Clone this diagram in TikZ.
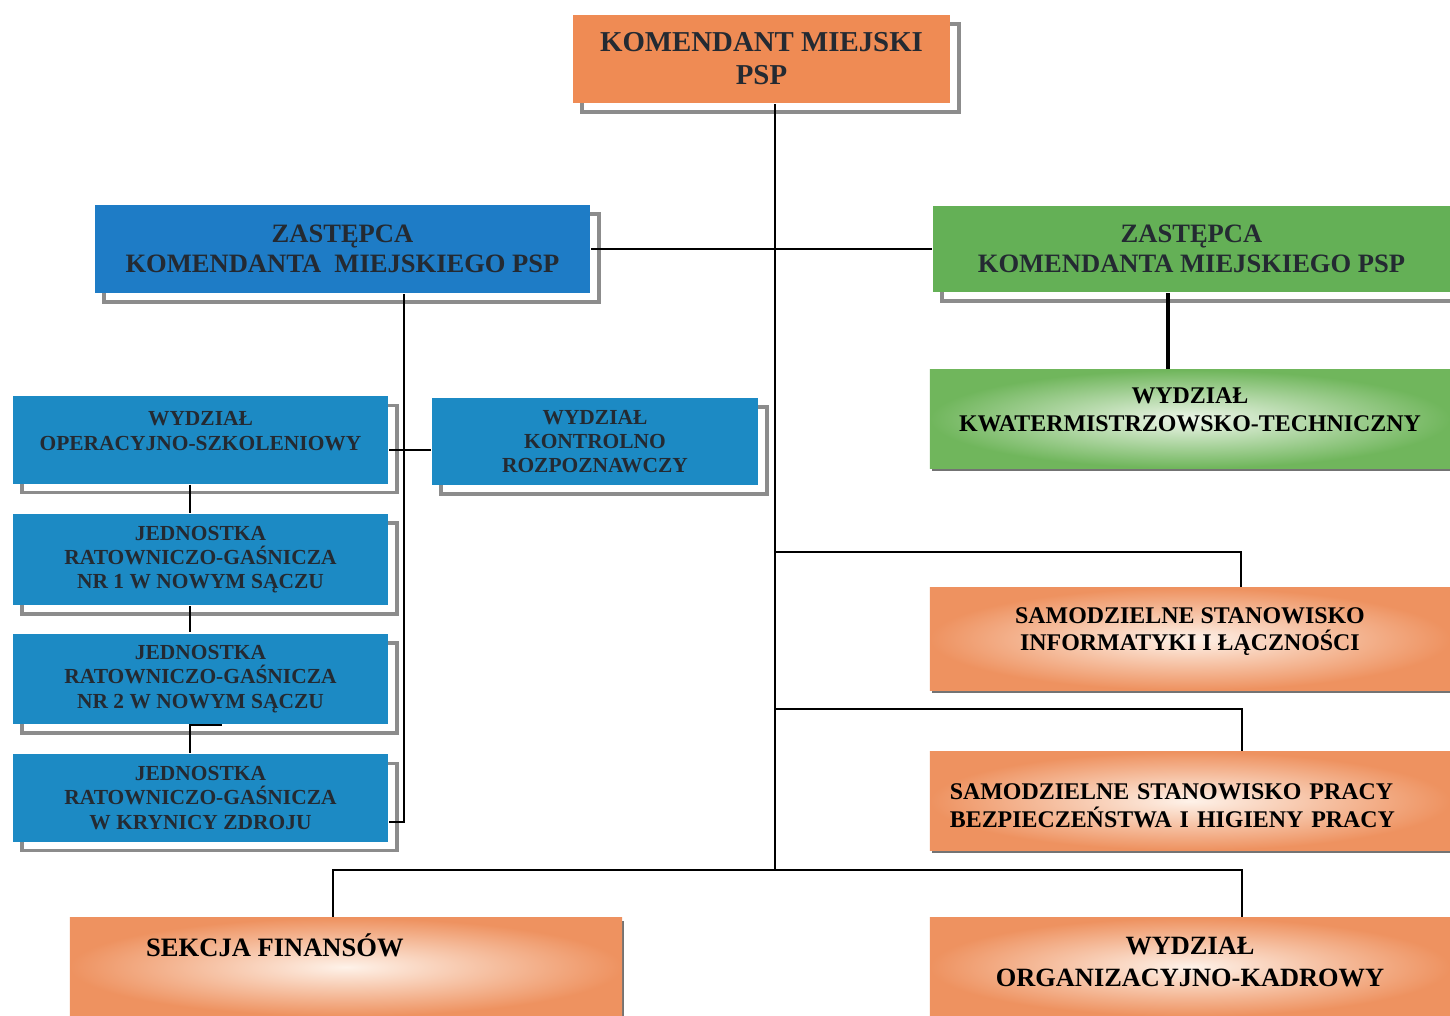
\documentclass[tikz,border=0pt]{standalone}
\usepackage{fontspec}
\setmainfont{Liberation Serif}
\usetikzlibrary{shadows}

\definecolor{komorange}{RGB}{239,139,84}
\definecolor{zblue}{RGB}{30,124,198}
\definecolor{wblue}{RGB}{28,138,196}
\definecolor{zgreen}{RGB}{100,176,86}
\definecolor{ktgreen}{RGB}{112,182,92}
\definecolor{ktlight}{RGB}{238,246,234}
\definecolor{peach}{RGB}{238,146,96}
\definecolor{peachlight}{RGB}{254,242,233}
\definecolor{boxtext}{RGB}{36,42,50}

\begin{document}
\begin{tikzpicture}[x=0.01cm, y=-0.01cm, line width=0.7pt,
    shd/.style={drop shadow={shadow xshift=0.09cm, shadow yshift=-0.09cm,
        fill=white, draw=black!45, line width=1.1pt, opacity=1}},
    thinshd/.style={drop shadow={shadow xshift=0.02cm, shadow yshift=-0.03cm,
        fill=black!55, opacity=1}},
    kombox/.style={shd, fill=komorange, align=center, text=boxtext,
        minimum width=3.77cm, minimum height=0.88cm,
        font=\bfseries\fontsize{8.2pt}{9.4pt}\selectfont},
    zbox/.style={shd, align=center, text=boxtext,
        minimum width=4.95cm, minimum height=0.88cm,
        font=\bfseries\fontsize{7.55pt}{8.6pt}\selectfont},
    wbox/.style={shd, fill=wblue, align=center, text=boxtext,
        minimum width=3.75cm, minimum height=0.87cm,
        font=\bfseries\fontsize{6.1pt}{6.9pt}\selectfont},
    pbox/.style={thinshd, inner color=peachlight, outer color=peach,
        align=center, text=black,
        minimum width=5.2cm, minimum height=0.98cm,
        font=\bfseries\fontsize{6.8pt}{7.9pt}\selectfont},
    gbox/.style={thinshd, inner color=ktlight, outer color=ktgreen,
        align=center, text=black,
        minimum width=5.2cm, minimum height=0.98cm,
        font=\bfseries\fontsize{6.8pt}{7.9pt}\selectfont}]

    \useasboundingbox (0,0) rectangle (1450,1016);

    \node(kom) at (761.5,59) [kombox] {KOMENDANT MIEJSKI\\PSP};

    \node(zl) at (342.5,249) [zbox, fill=zblue] {ZASTĘPCA\\KOMENDANTA\ \ MIEJSKIEGO PSP};
    \node(zr) at (1191.5,249) [zbox, fill=zgreen, minimum width=5.17cm, minimum height=0.86cm] {ZASTĘPCA\\KOMENDANTA MIEJSKIEGO PSP};

    \node(kt) at (1190,419) [gbox, text depth=0.18cm] {WYDZIAŁ\\KWATERMISTRZOWSKO-TECHNICZNY};

    \node(wos) at (200.5,440) [wbox, text depth=0.18cm] {WYDZIAŁ\\OPERACYJNO-SZKOLENIOWY};
    \node(jrg1) at (200.5,559.5) [wbox] {JEDNOSTKA\\RATOWNICZO-GAŚNICZA\\NR 1 W NOWYM SĄCZU};
    \node(jrg2) at (200.5,679) [wbox] {JEDNOSTKA\\RATOWNICZO-GAŚNICZA\\NR 2 W NOWYM SĄCZU};
    \node(kryn) at (200.5,798) [wbox] {JEDNOSTKA\\RATOWNICZO-GAŚNICZA\\W KRYNICY ZDROJU};

    \node(wkr) at (595,441.5) [wbox, minimum width=3.26cm] {WYDZIAŁ\\KONTROLNO\\ROZPOZNAWCZY};

    \node(ssi) at (1190,639) [pbox, minimum height=1.02cm, text depth=0.2cm] {SAMODZIELNE STANOWISKO\\INFORMATYKI I ŁĄCZNOŚCI};
    \node(bhp) at (1190,801) [pbox, align=left, text width=4.8cm, text depth=0.18cm] {SAMODZIELNE STANOWISKO PRACY\\BEZPIECZEŃSTWA I HIGIENY PRACY};
    \node(fin) at (346,967) [pbox, minimum width=5.52cm] {};
    \node(fintxt) at (145,945) [anchor=west, inner sep=0pt, text=black, font=\bfseries\fontsize{7.55pt}{8.6pt}\selectfont] {SEKCJA FINANSÓW};
    \node(wok) at (1190,967) [pbox, text depth=0.1cm, font=\bfseries\fontsize{7.5pt}{9pt}\selectfont] {WYDZIAŁ\\ORGANIZACYJNO-KADROWY};

    \coordinate(b1) at (775,552);
    \coordinate(b2) at (775,709);
    \coordinate(t) at (775,870);

    \draw (kom.south -| t) -- (t);
    \draw (zl.east) -- (zr.west);
    \draw[line width=1pt] (zr.south -| 1168,0) -- (kt.north -| 1168,0);

    \draw (b1) -| (ssi.north -| 1241,0);
    \draw (b2) -| (bhp.north -| 1242,0);
    \draw (fin.north -| 333,0) |- (t) -| (wok.north -| 1242,0);

    \draw (zl.south -| 404,0) |- (kryn.east |- 0,822);
    \draw (wos.east |- 0,450) -- (wkr.west |- 0,450);

    \draw (wos.south -| 190,0) -- (jrg1.north -| 190,0);
    \draw (jrg1.south -| 190,0) -- (jrg2.north -| 190,0);
    \draw (kryn.north -| 190,0) -- ++(0,-28) -- ++(32,0);

\end{tikzpicture}
\end{document}
